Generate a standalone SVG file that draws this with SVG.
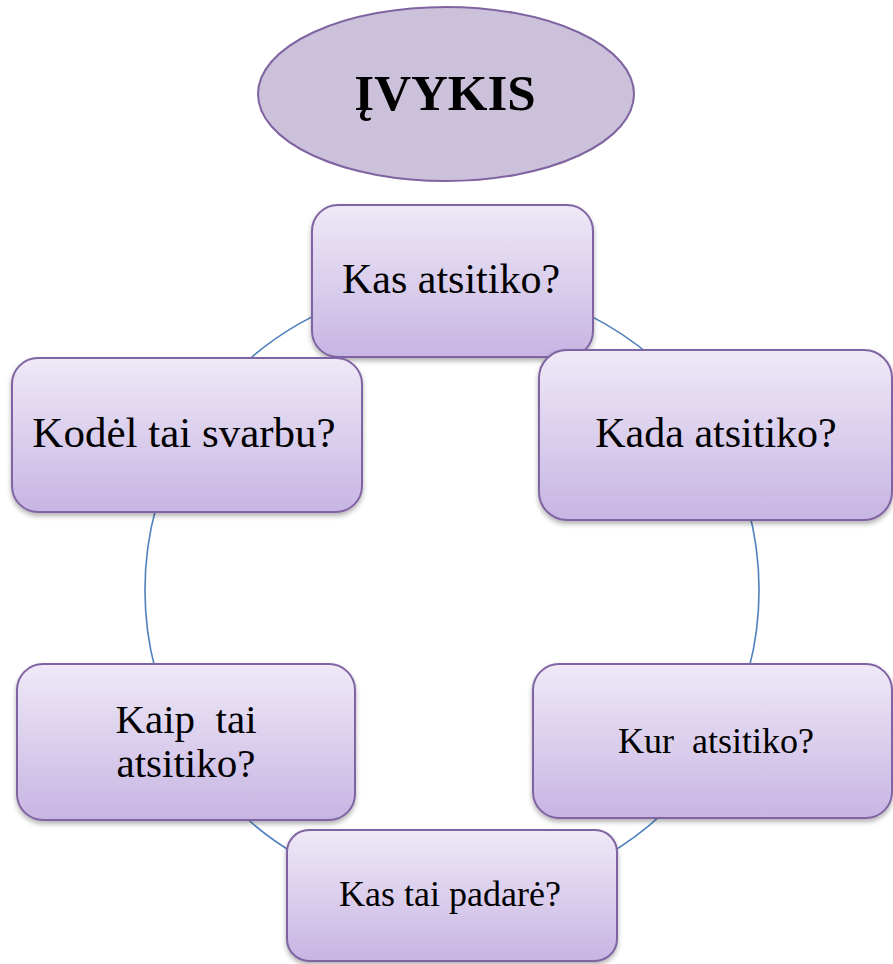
<svg xmlns="http://www.w3.org/2000/svg" width="893" height="964" viewBox="0 0 893 964">
<defs>
<linearGradient id="g" x1="0" y1="0" x2="0" y2="1">
<stop offset="0" stop-color="#efe9f7"/>
<stop offset="1" stop-color="#c7b5e3"/>
</linearGradient>
<filter id="sh" x="-10%" y="-10%" width="120%" height="130%">
<feDropShadow dx="0" dy="3" stdDeviation="2.5" flood-color="#000" flood-opacity="0.3"/>
</filter>
</defs>
<style>
.box{fill:url(#g);stroke:#8064a2;stroke-width:2;filter:url(#sh)}
.t{font-family:"Liberation Serif","Times New Roman",serif;fill:#000;text-anchor:middle;white-space:pre}
.conn{fill:none;stroke:#4f81bd;stroke-width:1.6}
</style>
<rect width="893" height="964" fill="#fff"/>
<g id="connectors">
<path class="conn" d="M452 283 A307 307 0 0 1 717.9 436.5"/>
<path class="conn" d="M717.9 436.5 A307 307 0 0 1 717.9 743.5"/>
<path class="conn" d="M717.9 743.5 A307 307 0 0 1 452 897"/>
<path class="conn" d="M452 897 A307 307 0 0 1 186.1 743.5"/>
<path class="conn" d="M186.1 743.5 A307 307 0 0 1 186.1 436.5"/>
<path class="conn" d="M186.1 436.5 A307 307 0 0 1 452 283"/>
</g>
<g id="ivykis">
<ellipse cx="446" cy="94" rx="188" ry="87" fill="#ccc1da" stroke="#8064a2" stroke-width="2"/>
<text class="t" x="445" y="110" font-size="51" font-weight="bold">ĮVYKIS</text>
</g>
<g id="kas-atsitiko">
<rect class="box" x="312" y="205" width="281" height="152" rx="26"/>
<text class="t" x="451" y="293" font-size="42">Kas atsitiko?</text>
</g>
<g id="kada-atsitiko">
<rect class="box" x="539" y="350" width="353" height="170" rx="28"/>
<text class="t" x="716" y="447" font-size="42">Kada atsitiko?</text>
</g>
<g id="kur-atsitiko">
<rect class="box" x="533" y="664" width="359" height="154" rx="26"/>
<text class="t" x="716" y="753" font-size="36">Kur  atsitiko?</text>
</g>
<g id="kas-tai-padare">
<rect class="box" x="287" y="830" width="330" height="131" rx="22"/>
<text class="t" x="450" y="906" font-size="36">Kas tai padarė?</text>
</g>
<g id="kaip-tai-atsitiko">
<rect class="box" x="17" y="664" width="338" height="156" rx="26"/>
<text class="t" x="186" y="733" font-size="41">Kaip  tai</text>
<text class="t" x="186" y="777" font-size="41">atsitiko?</text>
</g>
<g id="kodel-tai-svarbu">
<rect class="box" x="12" y="358" width="350" height="154" rx="26"/>
<text class="t" x="184" y="447" font-size="43">Kodėl tai svarbu?</text>
</g>
</svg>
